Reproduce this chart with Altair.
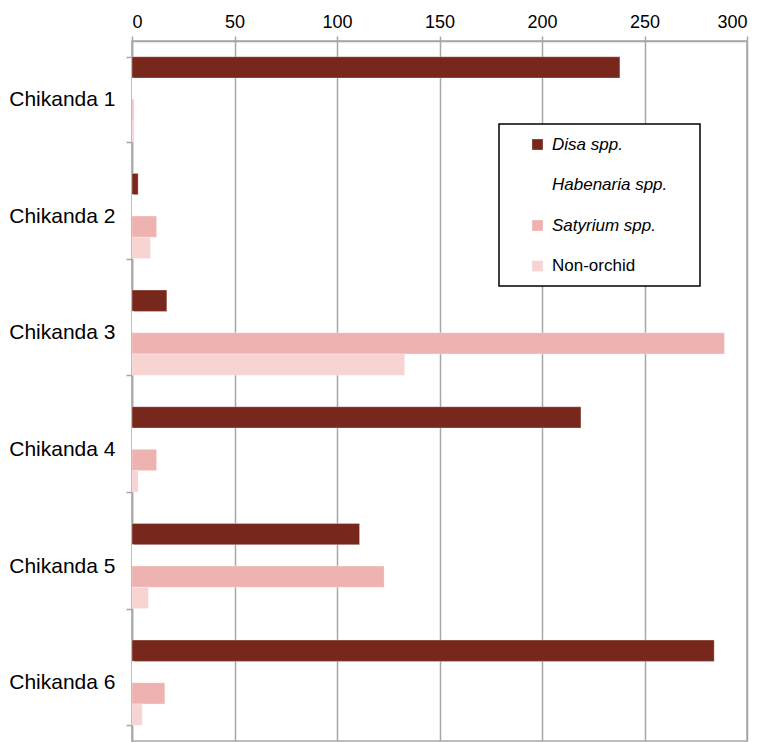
import altair as alt
import pandas as pd

sites = ["Chikanda 1", "Chikanda 2", "Chikanda 3", "Chikanda 4", "Chikanda 5", "Chikanda 6"]
series = ["Disa spp.", "Habenaria spp.", "Satyrium spp.", "Non-orchid"]
colors = ["#78271C", "#FFFFFF", "#EEB3B0", "#F7D3D2"]

disa = [238, 3, 17, 219, 111, 284]
habenaria = [1, 1, 1, 1, 1, 1]
satyrium = [0.5, 12, 289, 12, 123, 16]
non_orchid = [1, 9, 133, 3, 8, 5]

x_ticks = [0, 50, 100, 150, 200, 250, 300]

rows = []
for name, vals in zip(series, [disa, habenaria, satyrium, non_orchid]):
    for s, v in zip(sites, vals):
        rows.append({"site": s, "series": name, "value": v})
df = pd.DataFrame(rows)

FONT = "Liberation Sans"
GRID = "#A6A6A6"

chart = alt.Chart(df).mark_bar(stroke="white", strokeWidth=0.5, strokeOpacity=0.6).encode(
    x=alt.X(
        "value:Q",
        scale=alt.Scale(domain=[0, 300], nice=False),
        axis=alt.Axis(
            orient="top", values=x_ticks, title=None, grid=True, gridColor=GRID,
            gridWidth=1.5, domainColor=GRID, domainWidth=1.5, tickColor=GRID,
            tickWidth=1.5, tickSize=5, labelFont=FONT, labelFontSize=18,
            labelColor="black", labelPadding=5, minExtent=26, maxExtent=26,
        ),
    ),
    y=alt.Y(
        "site:N",
        sort=sites,
        scale=alt.Scale(paddingInner=0.27, paddingOuter=0.135),
        axis=alt.Axis(
            title=None, tickBand="extent", tickColor=GRID, tickWidth=1.5, tickSize=6,
            domainColor=GRID, domainWidth=1.5, labelFont=FONT, labelFontSize=21,
            labelColor="black", labelPadding=11, minExtent=118, maxExtent=118,
            labelLimit=200,
        ),
    ),
    yOffset=alt.YOffset("series:N", sort=series, scale=alt.Scale(paddingInner=0, paddingOuter=0)),
    color=alt.Color(
        "series:N",
        sort=series,
        scale=alt.Scale(domain=series, range=colors),
        legend=alt.Legend(
            orient="none", legendX=367, legendY=83, title="xx", titleOrient="right",
            titleOpacity=0, titleFontSize=11, titlePadding=8,
            strokeColor="black", fillColor="white", padding=12, symbolOffset=18,
            symbolType="square", symbolSize=115, symbolStrokeWidth=0,
            labelFont=FONT, labelFontSize=17, labelColor="black", labelOffset=6,
            labelFontStyle=alt.ExprRef("datum.label == 'Non-orchid' ? 'normal' : 'italic'"),
            rowPadding=22.5, labelLimit=300,
        ),
    ),
).properties(
    width=615, height=700, padding={"left": 0, "top": 5, "right": 5, "bottom": 5}
).configure_view(
    stroke=GRID, strokeWidth=1.5
).configure_legend(
    strokeWidth=1.5
)

chart.save("out.html", embed_options={"renderer": "svg", "actions": False})
